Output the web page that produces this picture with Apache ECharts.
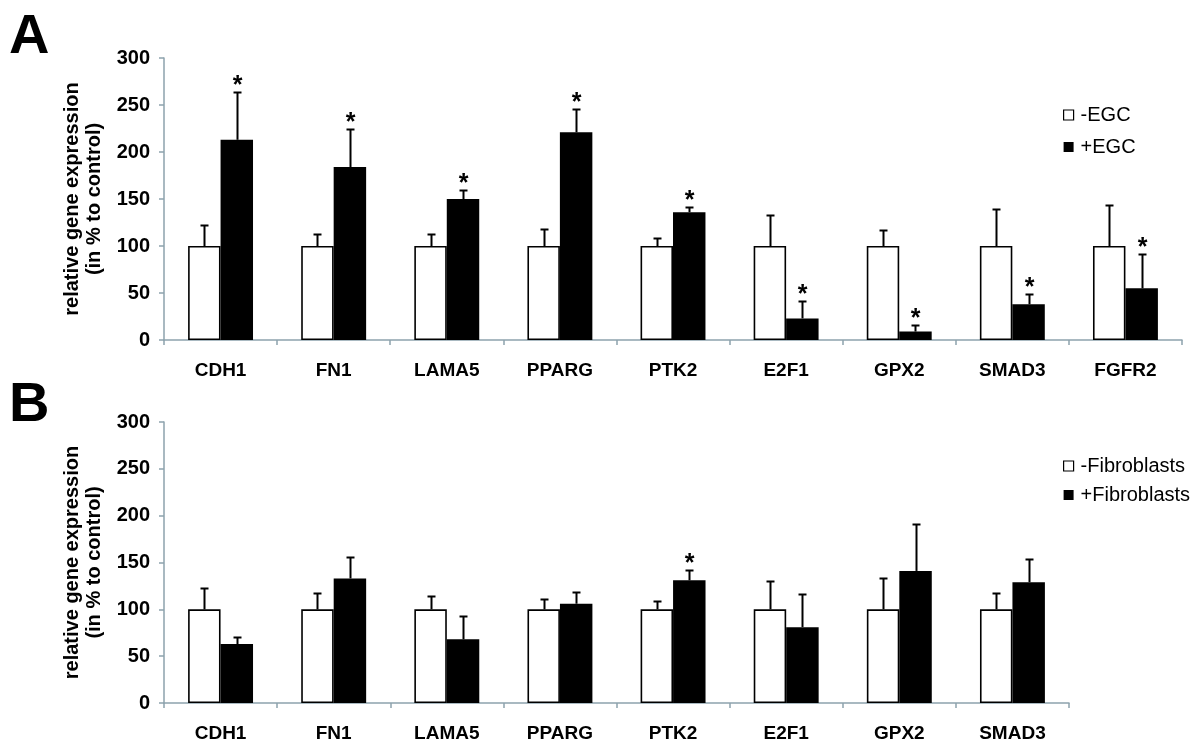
<!DOCTYPE html>
<html>
<head>
<meta charset="utf-8">
<script src="https://cdn.jsdelivr.net/npm/echarts@6/dist/echarts.min.js"></script>
<style>
html,body{margin:0;padding:0;background:#fff;}
#chart{width:1200px;height:752px;}
</style>
</head>
<body>
<div id="chart"></div>
<script>
// ---- Data ----
const categoriesA = ['CDH1','FN1','LAMA5','PPARG','PTK2','E2F1','GPX2','SMAD3','FGFR2'];
const minusEGC = [100,100,100,100,100,100,100,100,100];
const minusEGCsd = [22,13,13,18,9,33,17,39,44];
const plusEGC = [213,184,150,221,136,23,9,38,55];
const plusEGCsd = [51,40,10,25,6,18,7,11,37];
const plusEGCsig = [1,1,1,1,1,1,1,1,1];

const categoriesB = ['CDH1','FN1','LAMA5','PPARG','PTK2','E2F1','GPX2','SMAD3'];
const minusFib = [100,100,100,100,100,100,100,100];
const minusFibSd = [23,17,14,11,9,30,33,17];
const plusFib = [63,133,68,106,131,81,141,129];
const plusFibSd = [7,23,25,13,11,35,50,25];
const plusFibSig = [0,0,0,0,1,0,0,0];

const yTicks = {min:0, max:300, interval:50};

// ---- Style ----
const FONT = "'Liberation Sans', Arial, sans-serif";
const AXIS_COLOR = '#8da2ad';
const BAR_FRAC = 0.287;

function errSeries(name, idx, means, sds, sig, side) {
  return {
    name: name + ' err',
    type: 'custom',
    xAxisIndex: idx, yAxisIndex: idx,
    z: 5,
    silent: true,
    data: means.map((m, i) => [i, m, m + sds[i], sig ? sig[i] : 0]),
    renderItem: function (params, api) {
      const i = api.value(0), m = api.value(1), top = api.value(2), s = api.value(3);
      const band = api.size([1, 0])[0];
      const barW = band * BAR_FRAC;
      const c0 = api.coord([i, m]);
      const c1 = api.coord([i, top]);
      const x = Math.round(c0[0] + side * barW / 2) + 0.5;
      const yT = Math.round(c1[1]) + 0.5;
      const children = [
        {type: 'line', shape: {x1: x, y1: c0[1], x2: x, y2: yT}, style: {stroke: '#000', lineWidth: 2}},
        {type: 'line', shape: {x1: x - 4, y1: yT, x2: x + 4, y2: yT}, style: {stroke: '#000', lineWidth: 2}}
      ];
      if (s) {
        children.push({type: 'text', style: {text: '*', x: x, y: yT - 6, align: 'center', verticalAlign: 'middle',
          font: 'bold 25px ' + FONT, fill: '#000'}});
      }
      return {type: 'group', children: children};
    }
  };
}

function barSeries(name, idx, values, white) {
  return {
    name: name, type: 'bar', xAxisIndex: idx, yAxisIndex: idx,
    barWidth: (BAR_FRAC * 100) + '%', barGap: '0%',
    itemStyle: white ? {color: '#fff', borderColor: '#000', borderWidth: 1.6} : {color: '#000'},
    data: values
  };
}

function xAx(idx, cats) {
  return {
    type: 'category', gridIndex: idx, data: cats,
    axisLine: {lineStyle: {color: AXIS_COLOR, width: 1.5}},
    axisTick: {show: true, length: 5, lineStyle: {color: AXIS_COLOR, width: 1.5}},
    axisLabel: {color: '#000', fontFamily: FONT, fontWeight: 'bold', fontSize: 19, margin: 21, interval: 0}
  };
}
function yAx(idx) {
  return {
    type: 'value', gridIndex: idx, min: yTicks.min, max: yTicks.max, interval: yTicks.interval,
    name: 'relative gene expression\n(in % to control)',
    nameLocation: 'middle', nameRotate: 90, nameGap: 52,
    nameTextStyle: {color: '#000', fontFamily: FONT, fontWeight: 'bold', fontSize: 20, lineHeight: 22},
    splitLine: {show: false},
    axisLine: {show: true, lineStyle: {color: AXIS_COLOR, width: 1.5}},
    axisTick: {show: true, length: 5, lineStyle: {color: AXIS_COLOR, width: 1.5}},
    axisLabel: {color: '#000', fontFamily: FONT, fontWeight: 'bold', fontSize: 20, margin: 14}
  };
}
function legend(top, gap, names) {
  return {
    orient: 'vertical', left: 1058, top: top, itemWidth: 10, itemHeight: 10, itemGap: gap,
    icon: 'rect',
    textStyle: {color: '#000', fontFamily: FONT, fontSize: 20, lineHeight: 20, padding: [0, 0, 0, 2]},
    data: [
      {name: names[0], itemStyle: {color: '#fff', borderColor: '#000', borderWidth: 1.2}},
      {name: names[1], itemStyle: {color: '#000', borderWidth: 0}}
    ]
  };
}

const chart = echarts.init(document.getElementById('chart'), null, {renderer: 'canvas'});
chart.setOption({
  animation: false,
  backgroundColor: '#fff',
  grid: [
    {left: 164, top: 58, width: 1018, height: 282},
    {left: 164, top: 422, width: 905, height: 281}
  ],
  xAxis: [xAx(0, categoriesA), xAx(1, categoriesB)],
  yAxis: [yAx(0), yAx(1)],
  legend: [legend(100, 12, ['-EGC', '+EGC']), legend(451, 9, ['-Fibroblasts', '+Fibroblasts'])],
  graphic: [
    {type: 'text', left: 9, top: 10, style: {text: 'A', font: 'bold 56px ' + FONT, fill: '#000'}},
    {type: 'text', left: 9, top: 378, style: {text: 'B', font: 'bold 56px ' + FONT, fill: '#000'}}
  ],
  series: [
    barSeries('-EGC', 0, minusEGC, true),
    barSeries('+EGC', 0, plusEGC, false),
    errSeries('-EGC', 0, minusEGC, minusEGCsd, null, -1),
    errSeries('+EGC', 0, plusEGC, plusEGCsd, plusEGCsig, 1),
    barSeries('-Fibroblasts', 1, minusFib, true),
    barSeries('+Fibroblasts', 1, plusFib, false),
    errSeries('-Fibroblasts', 1, minusFib, minusFibSd, null, -1),
    errSeries('+Fibroblasts', 1, plusFib, plusFibSd, plusFibSig, 1)
  ]
});
</script>
</body>
</html>
